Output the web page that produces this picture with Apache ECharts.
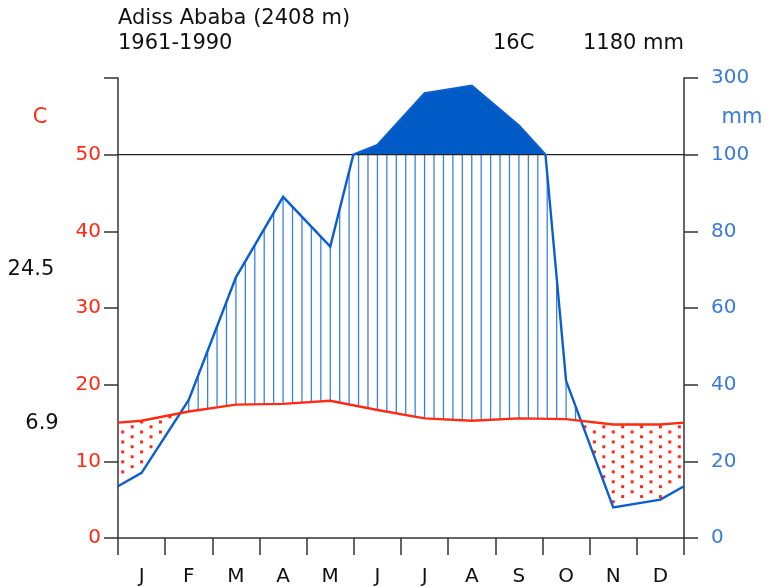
<!DOCTYPE html>
<html><head><meta charset="utf-8">
<script src="https://cdn.jsdelivr.net/npm/echarts@6/dist/echarts.min.js"></script>
<style>html,body{margin:0;padding:0;background:#fff}#c{width:772px;height:587px}</style>
</head><body><div id="c"></div>
<script>
// ---- data ----
const months = ['J','F','M','A','M','J','J','A','S','O','N','D'];
const temperature = [15.3,16.5,17.4,17.5,17.9,16.7,15.6,15.3,15.6,15.5,14.8,14.8]; // °C
const precipitation = [17,36,68,89,76,125,260,280,176,41,8,10];                  // mm
const leftTickLabels = [0,10,20,30,40,50];
const rightTickLabels = [0,20,40,60,80,100,300];
const stationTitle = 'Adiss Ababa (2408 m)';
const periodLabel = '1961-1990';
const meanTempLabel = '16C';
const totalPrecipLabel = '1180 mm';
const absMaxLabel = '24.5';
const absMinLabel = '6.9';

// ---- helpers ----
const RED = '#ff2a12', BLUE = '#0a5ed0', BLUE_LBL = '#3a7ad8';
const FONT = '"DejaVu Sans", sans-serif';
function sc(p){ return p <= 100 ? p/2 : 50 + (p-100)/20; }
function extend(arr){ const e=(arr[0]+arr[arr.length-1])/2; return [[0,e]].concat(arr.map((v,i)=>[i+0.5,v])).concat([[12,e]]); }
function withCross(pts, level){
  const out=[pts[0]];
  for(let i=1;i<pts.length;i++){
    const a=pts[i-1], b=pts[i];
    if((a[1]-level)*(b[1]-level)<0){ const t=(level-a[1])/(b[1]-a[1]); out.push([a[0]+t*(b[0]-a[0]), level]); }
    out.push(b);
  }
  return out;
}
function interp(pts, x){
  for(let i=1;i<pts.length;i++){ if(x<=pts[i][0]){ const a=pts[i-1], b=pts[i]; const t=(x-a[0])/(b[0]-a[0]); return a[1]+t*(b[1]-a[1]); } }
  return pts[pts.length-1][1];
}
const tPts = extend(temperature);
const pPts = withCross(extend(precipitation), 100);
const pScaled = pPts.map(p=>[p[0], sc(p[1])]);

function renderClimate(params, api){
  const children=[];
  // perhumid fill (>100 mm)
  let run=[];
  const flush=()=>{ if(run.length>1){ const poly=run.map(p=>api.coord([p[0], sc(p[1])]));
      poly.push(api.coord([run[run.length-1][0],50])); poly.push(api.coord([run[0][0],50]));
      children.push({type:'polygon', shape:{points:poly}, style:{fill:'#005bc6'}}); } run=[]; };
  pPts.forEach(p=>{ if(p[1]>=100) run.push(p); else flush(); }); flush();
  // hatch & dots
  for(let k=0;k<60;k++){
    const x=0.1+0.2*k;
    const t=interp(tPts,x), p=interp(pPts,x);
    const ps=sc(Math.min(p,100));
    if(ps>t){
      const a=api.coord([x,t]), b=api.coord([x,ps]);
      children.push({type:'line', shape:{x1:a[0],y1:a[1],x2:b[0],y2:b[1]}, style:{stroke:'#3a82e2', lineWidth:1.3}});
    } else {
      const base = (k%2===0) ? 0.83 : 0.2;
      for(let y=base; y<60; y+=1.3){
        if(y < t-0.1 && y > ps+0.35){
          const c=api.coord([x,y]);
          children.push({type:'rect', shape:{x:c[0]-1.5,y:c[1]-1.5,width:3,height:3}, style:{fill:'#ff2a12'}});
        }
      }
    }
  }
  // 100 mm line
  const l0=api.coord([0,50]), l1=api.coord([12,50]);
  children.push({type:'line', shape:{x1:l0[0],y1:l0[1],x2:l1[0],y2:l1[1]}, style:{stroke:'#222', lineWidth:1.3}});
  // precipitation line
  children.push({type:'polyline', shape:{points:pScaled.map(p=>api.coord(p))}, style:{stroke:BLUE, lineWidth:2.4, fill:null}});
  // temperature line
  children.push({type:'polyline', shape:{points:tPts.map(p=>api.coord(p))}, style:{stroke:RED, lineWidth:2.4, fill:null}});
  return {type:'group', children};
}

function txt(s, x, y, color, align){
  return {type:'text', x:x, y:y, style:{text:s, font:'21px '+FONT, fill:color, align:align||'left', verticalAlign:'middle'}};
}

const chart = echarts.init(document.getElementById('c'), null, {renderer:'canvas'});
const axisLineStyle = {color:'#333', width:1.5};
chart.setOption({
  animation:false,
  backgroundColor:'#fff',
  grid:{left:118, right:88, top:78, bottom:49},
  xAxis:[
    {type:'category', data:months, boundaryGap:true, position:'bottom',
     axisLine:{show:true, lineStyle:axisLineStyle},
     axisTick:{show:true, interval:0, length:17, lineStyle:axisLineStyle},
     axisLabel:{interval:0, margin:29, color:'#111', fontSize:20, fontFamily:FONT},
     splitLine:{show:false}},
    {type:'value', min:0, max:12, show:false}
  ],
  yAxis:[
    {type:'value', position:'left', min:0, max:60, interval:10,
     axisLine:{show:true, lineStyle:axisLineStyle},
     axisTick:{show:true, length:14, lineStyle:axisLineStyle},
     axisLabel:{margin:17, color:RED, fontSize:20, fontFamily:FONT,
       formatter:v=> leftTickLabels.indexOf(v)>=0 ? String(v) : ''},
     splitLine:{show:false}},
    {type:'value', position:'right', min:0, max:60, interval:10,
     axisLine:{show:true, lineStyle:axisLineStyle},
     axisTick:{show:true, length:14, lineStyle:axisLineStyle},
     axisLabel:{margin:27, color:BLUE_LBL, fontSize:20, fontFamily:FONT,
       formatter:v=>{ const i=Math.round(v/10); return i<rightTickLabels.length ? String(rightTickLabels[i]) : ''; }},
     splitLine:{show:false}}
  ],
  series:[
    {type:'custom', xAxisIndex:1, yAxisIndex:0, data:[[0,0]], renderItem:renderClimate, silent:true, clip:false}
  ],
  graphic:[
    txt(stationTitle, 118, 19, '#111'),
    txt(periodLabel, 118, 44, '#111'),
    txt(meanTempLabel, 493, 44, '#111'),
    txt(totalPrecipLabel, 684, 44, '#111', 'right'),
    txt('C', 40, 118, RED, 'center'),
    txt('mm', 742, 118, BLUE_LBL, 'center'),
    txt(absMaxLabel, 31, 270, '#111', 'center'),
    txt(absMinLabel, 42, 424, '#111', 'center')
  ]
});
</script></body></html>
